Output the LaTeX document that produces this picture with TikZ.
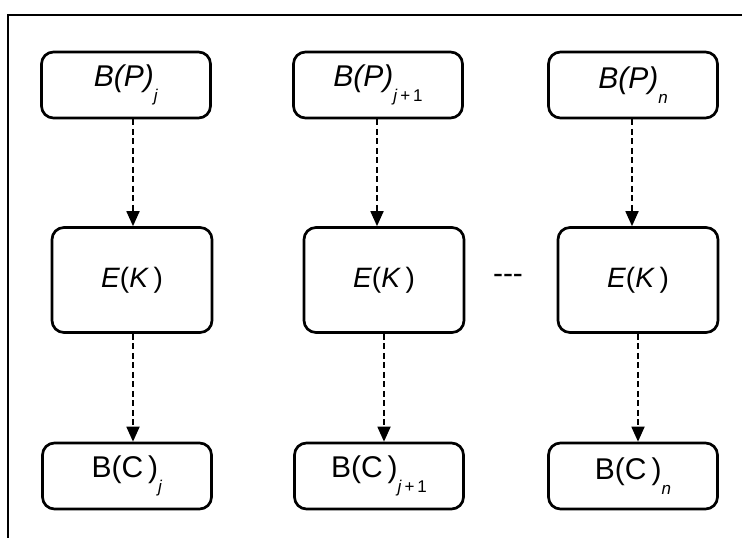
\documentclass[tikz,border=0pt]{standalone}
\usepackage{fontspec}
\setmainfont{Liberation Sans}
\usetikzlibrary{arrows.meta}

% subscript helper: lowered, small
\newcommand{\lowsub}[1]{\raisebox{-0.5em}{\fontsize{17}{17}\selectfont #1}}

\begin{document}
\begin{tikzpicture}[x=1pt,y=-1pt,
  box/.style={draw, line width=2.7pt, rounded corners=12pt, inner sep=0pt},
  small/.style={box, minimum width=169pt, minimum height=66pt,
                font=\fontsize{30}{32}\selectfont},
  big/.style={box, minimum width=160pt, minimum height=105pt,
              font=\fontsize{28}{30}\selectfont},
  flow/.style={line width=1.8pt, dash pattern=on 6pt off 3.5pt,
               -{Triangle[width=13pt,length=15pt]}},
  frameline/.style={line width=2.8pt}
]
\useasboundingbox (0,0) rectangle (742,538);

% open frame: left and top edges
\draw[frameline] (8,540) -- (8,15) -- (744,15);

% plaintext blocks
\node[small] (p1) at (126,85) {\textit{B(P)}\lowsub{\textit{j}}};
\node[small] (p2) at (378,85) {\textit{B(P)}\lowsub{\textit{j}\,+\,1}};
\node[small] (p3) at (633,85) {\textit{B(P)}\lowsub{\textit{n}}};

% encryption blocks
\node[big] (e1) at (132,280) {\textit{E}(\textit{K}\,)\hspace{8pt}};
\node[big] (e2) at (384,280) {\textit{E}(\textit{K}\,)\hspace{8pt}};
\node[big] (e3) at (638,280) {\textit{E}(\textit{K}\,)\hspace{8pt}};

% ciphertext blocks
\node[small] (c1) at (127,476) {B(C\,)\lowsub{\textit{j}}};
\node[small] (c2) at (379,476) {B(C\,)\lowsub{\textit{j}\,+\,1}};
\node[small] (c3) at (633,476) {B(C\,)\lowsub{\textit{n}}};

% ellipsis between the blocks
\node[font=\fontsize{30}{32}\selectfont] (dots) at (508,279) {{-}{-}{-}};

% data flow
\draw[flow] (p1.south -| 133,0) -- (e1.north -| 133,0);
\draw[flow] (p2.south -| 377,0) -- (e2.north -| 377,0);
\draw[flow] (p3.south -| 632,0) -- (e3.north -| 632,0);
\draw[flow] (e1.south -| 133,0) -- (c1.north -| 133,0);
\draw[flow] (e2.south -| 384,0) -- (c2.north -| 384,0);
\draw[flow] (e3.south -| 638,0) -- (c3.north -| 638,0);
\end{tikzpicture}
\end{document}
